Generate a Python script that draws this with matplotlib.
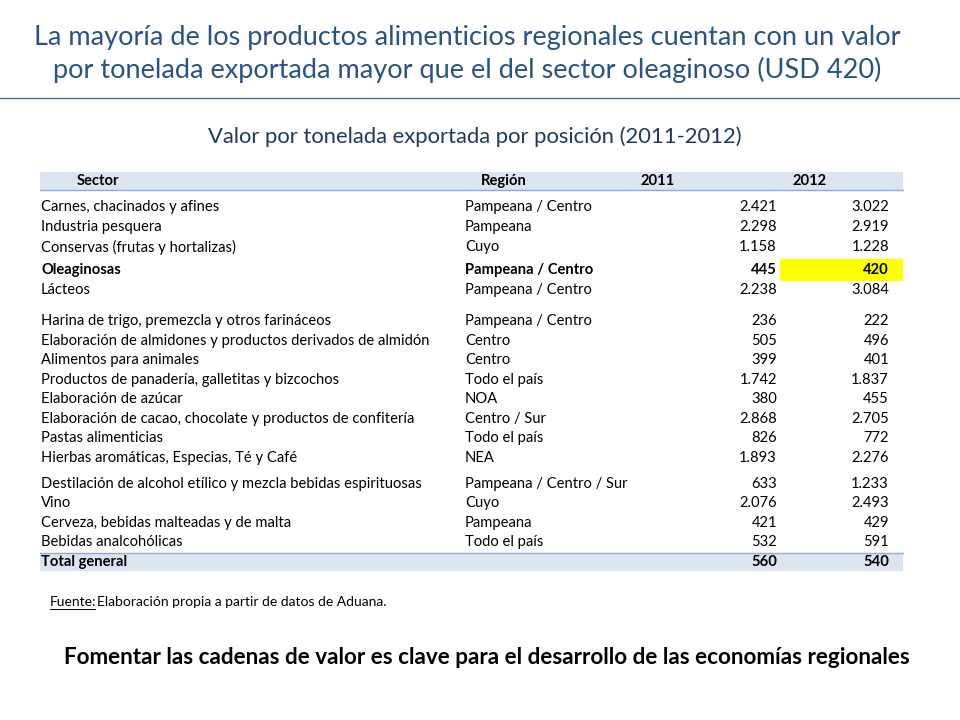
import matplotlib.pyplot as plt
from matplotlib.patches import Rectangle

sectores = ["Carnes, chacinados y afines", "Industria pesquera", "Conservas (frutas y hortalizas)",
            "Oleaginosas", "Lácteos",
            "Harina de trigo, premezcla y otros farináceos",
            "Elaboración de almidones y productos derivados de almidón",
            "Alimentos para animales", "Productos de panadería, galletitas y bizcochos",
            "Elaboración de azúcar", "Elaboración de cacao, chocolate y productos de confitería",
            "Pastas alimenticias", "Hierbas aromáticas, Especias, Té y Café",
            "Destilación de alcohol etílico y mezcla bebidas espirituosas", "Vino",
            "Cerveza, bebidas malteadas y de malta", "Bebidas analcohólicas"]
regiones = ["Pampeana / Centro", "Pampeana", "Cuyo", "Pampeana / Centro", "Pampeana / Centro",
            "Pampeana / Centro", "Centro", "Centro", "Todo el país", "NOA", "Centro / Sur",
            "Todo el país", "NEA", "Pampeana / Centro / Sur", "Cuyo", "Pampeana", "Todo el país"]
v2011 = [2421, 2298, 1158, 445, 2238, 236, 505, 399, 1742, 380, 2868, 826, 1893, 633, 2076, 421, 532]
v2012 = [3022, 2919, 1228, 420, 3084, 222, 496, 401, 1837, 455, 2705, 772, 2276, 1233, 2493, 429, 591]
total = (560, 540)

def fmt(v):
    return f"{v:,}".replace(",", ".")

W, H = 960, 720
plt.rcParams["font.family"] = "Lato"
fig = plt.figure(figsize=(9.6, 7.2), dpi=100)
ax = fig.add_axes([0, 0, 1, 1])
ax.set_xlim(0, W)
ax.set_ylim(H, 0)
ax.axis("off")

blue = "#2A5287"
ax.text(467, 38, "La mayoría de los productos alimenticios regionales cuentan con un valor",
        ha="center", va="center", fontsize=19.5, color=blue)
ax.text(467, 70, "por tonelada exportada mayor que el del sector oleaginoso (USD 420)",
        ha="center", va="center", fontsize=19.5, color=blue)
ax.plot([0, 960], [98, 98], color="#4F6A8F", lw=1)
ax.text(475, 137, "Valor por tonelada exportada por posición (2011-2012)",
        ha="center", va="center", fontsize=15.8, color="#1F3864")

# encabezado
ax.add_patch(Rectangle((40, 172), 863, 18, color="#DCE3F1", lw=0))
ax.plot([40, 903], [190, 190], color="#8EA9DB", lw=1)
fs = 10.6
ax.text(98, 181, "Sector", ha="center", va="center", fontsize=fs, weight="bold")
ax.text(504, 181, "Región", ha="center", va="center", fontsize=fs, weight="bold")
ax.text(658, 181, "2011", ha="center", va="center", fontsize=fs, weight="bold")
ax.text(810, 181, "2012", ha="center", va="center", fontsize=fs, weight="bold")

ys = [207, 227, 247, 270, 290, 321, 341, 360, 380, 399, 419, 438, 458, 484, 503, 523, 542]
for i, y in enumerate(ys):
    w = "bold" if sectores[i] == "Oleaginosas" else "normal"
    if sectores[i] == "Oleaginosas":
        ax.add_patch(Rectangle((780, 259), 123, 22, color="#FFFF00", lw=0))
    ax.text(41, y, sectores[i], ha="left", va="center", fontsize=fs, weight=w)
    ax.text(465, y, regiones[i], ha="left", va="center", fontsize=fs, weight=w)
    ax.text(777, y, fmt(v2011[i]), ha="right", va="center", fontsize=fs, weight=w)
    ax.text(889, y, fmt(v2012[i]), ha="right", va="center", fontsize=fs, weight=w)

ax.add_patch(Rectangle((40, 553), 863, 18, color="#DCE3F1", lw=0))
ax.plot([40, 903], [553, 553], color="#8EA9DB", lw=1)
ax.text(41, 562, "Total general", ha="left", va="center", fontsize=fs, weight="bold")
ax.text(777, 562, fmt(total[0]), ha="right", va="center", fontsize=fs, weight="bold")
ax.text(889, 562, fmt(total[1]), ha="right", va="center", fontsize=fs, weight="bold")

ax.text(50, 602, "Fuente:", ha="left", va="center", fontsize=10)
ax.plot([50, 95], [609, 609], color="black", lw=0.7)
ax.text(97, 602, "Elaboración propia a partir de datos de Aduana.", ha="left", va="center", fontsize=10)

ax.text(487, 657, "Fomentar las cadenas de valor es clave para el desarrollo de las economías regionales",
        ha="center", va="center", fontsize=16.2, weight="bold")

fig.savefig("out.png", dpi=100)
